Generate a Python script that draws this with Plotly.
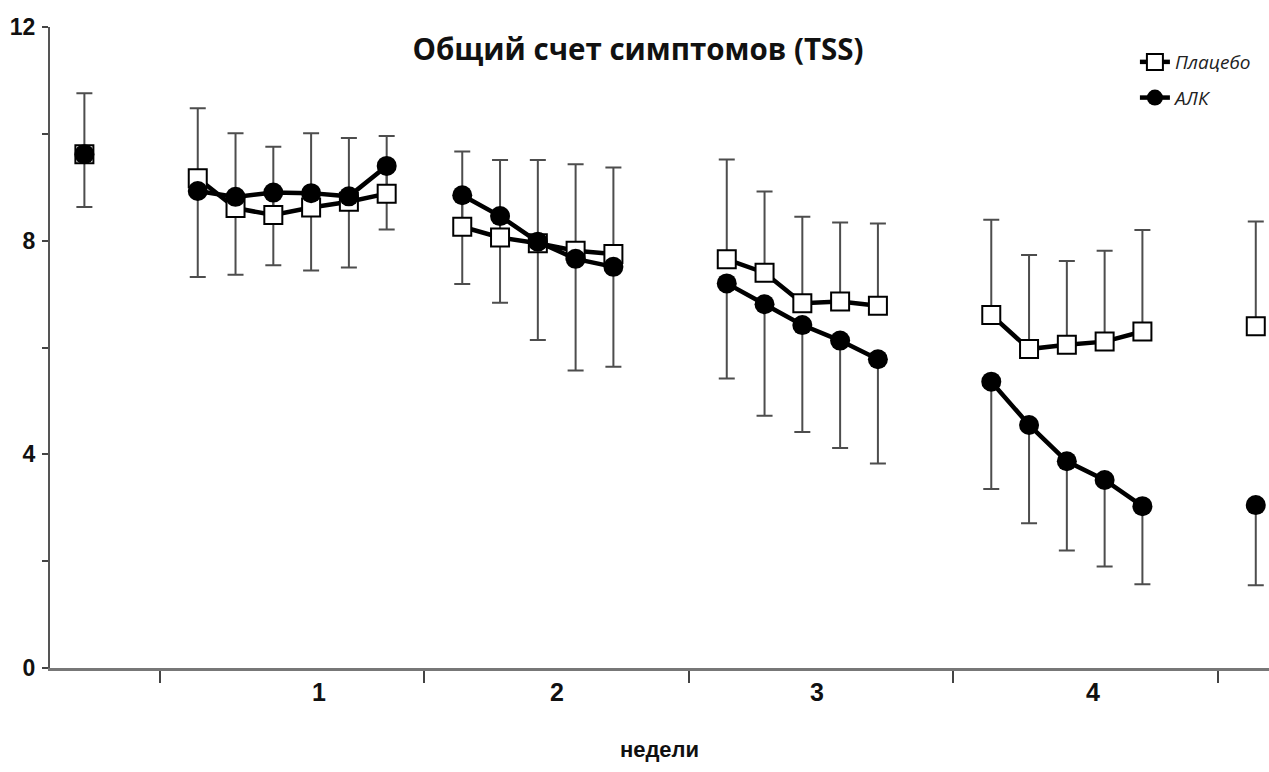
import plotly.graph_objects as go

# Study days (baseline, then daily diary entries in weeks 1-4, end of study)
days = [-2, 1, 2, 3, 4, 5, 6, 8, 9, 10, 11, 12, 15, 16, 17, 18, 19,
        22, 23, 24, 25, 26, 29]

# Total symptom score, placebo group (mean and SD drawn upwards)
placebo_mean = [9.62, 9.17, 8.61, 8.48, 8.62, 8.73, 8.88,
                8.26, 8.06, 7.95, 7.81, 7.75,
                7.65, 7.40, 6.83, 6.86, 6.78,
                6.61, 5.97, 6.05, 6.11, 6.30, 6.40]
placebo_sd = [1.14, 1.31, 1.40, 1.28, 1.39, 1.19, 1.08,
              1.41, 1.45, 1.56, 1.62, 1.62,
              1.87, 1.52, 1.62, 1.48, 1.54,
              1.78, 1.76, 1.57, 1.70, 1.90, 1.96]

# Total symptom score, ALK group (mean and SD drawn downwards)
alk_mean = [9.62, 8.93, 8.82, 8.90, 8.89, 8.83, 9.40,
            8.85, 8.46, 7.98, 7.66, 7.51,
            7.20, 6.81, 6.42, 6.13, 5.78,
            5.36, 4.55, 3.87, 3.52, 3.03, 3.05]
alk_sd = [0.99, 1.61, 1.46, 1.36, 1.45, 1.33, 1.19,
          1.66, 1.62, 1.84, 2.09, 1.87,
          1.78, 2.09, 2.00, 2.01, 1.95,
          2.01, 1.84, 1.67, 1.62, 1.46, 1.50]

# Week boundaries on the day axis and week labels
week_bounds = [0, 7, 14, 21, 28]
week_label_pos = [4.2, 10.5, 17.4, 24.7]
week_labels = ["1", "2", "3", "4"]

y_ticks = [0, 2, 4, 6, 8, 10, 12]
y_ticktext = ["0", "", "4", "", "8", "", "12"]

# Segments: points within the same week are joined by a line
segments = [(0, 1), (1, 7), (7, 12), (12, 17), (17, 22), (22, 23)]

ERR_COLOR = "#4d4d4d"
LABEL_FONT = "Liberation Sans Narrow, Arial Narrow, Liberation Sans, Arial"

fig = go.Figure()

# Error bars first, so markers sit on top of them
zeros = [0] * len(days)
fig.add_trace(go.Scatter(
    x=days, y=placebo_mean, mode="markers",
    marker=dict(size=1, color="rgba(0,0,0,0)"),
    error_y=dict(type="data", symmetric=False, array=placebo_sd,
                 arrayminus=zeros, color=ERR_COLOR, thickness=2, width=8),
    showlegend=False, hoverinfo="skip"))
fig.add_trace(go.Scatter(
    x=days, y=alk_mean, mode="markers",
    marker=dict(size=1, color="rgba(0,0,0,0)"),
    error_y=dict(type="data", symmetric=False, array=zeros,
                 arrayminus=alk_sd, color=ERR_COLOR, thickness=2, width=8),
    showlegend=False, hoverinfo="skip"))

def add_series(mean, name, marker, group):
    for k, (a, b) in enumerate(segments):
        fig.add_trace(go.Scatter(
            x=days[a:b], y=mean[a:b], mode="lines+markers",
            line=dict(color="black", width=4.5),
            marker=marker, name=name, legendgroup=group,
            showlegend=(k == 1)))

add_series(placebo_mean, "Плацебо",
           dict(symbol="square", size=18, color="white",
                line=dict(color="black", width=2)), "p")
add_series(alk_mean, "АЛК",
           dict(symbol="circle", size=20, color="black",
                line=dict(color="black", width=0)), "a")

for pos, lab in zip(week_label_pos, week_labels):
    fig.add_annotation(x=pos, y=-0.062, xref="x", yref="paper",
                       text=f"<b>{lab}</b>", showarrow=False,
                       font=dict(family=LABEL_FONT, size=25, color="#111"))

fig.update_layout(
    width=1269, height=772,
    margin=dict(l=50, r=0, t=27, b=104),
    paper_bgcolor="white", plot_bgcolor="white",
    title=dict(text="<b>Общий счет симптомов (TSS)</b>",
               x=638 / 1269, xanchor="center", y=1 - 50 / 772, yanchor="middle",
               font=dict(family="Open Sans", size=29.5, color="#111")),
    legend=dict(x=0.89, y=0.975, xanchor="left", yanchor="top",
                bgcolor="rgba(0,0,0,0)", tracegroupgap=8,
                font=dict(family="Open Sans", size=19, color="#222",
                          style="italic")),
    xaxis=dict(range=[-2.91, 29.35], tickvals=week_bounds,
               ticktext=[""] * len(week_bounds),
               ticks="outside", ticklen=12, tickwidth=2, tickcolor="#444",
               showline=True, linecolor="#777", linewidth=3,
               showgrid=False, zeroline=False,
               title=dict(text="<b>недели</b>", standoff=0,
                          font=dict(family=LABEL_FONT, size=22, color="#111"))),
    yaxis=dict(range=[0, 12], tickvals=y_ticks,
               ticktext=[f"<b>{t}</b>" if t else "" for t in y_ticktext],
               ticks="outside", ticklen=6, tickwidth=2, tickcolor="#444",
               showline=True, linecolor="#555", linewidth=2,
               showgrid=False, zeroline=False,
               tickfont=dict(family=LABEL_FONT, size=23, color="#111"),
               ticklabelstandoff=2),
)
fig.update_xaxes(title_standoff=58)

fig.write_html("out.html")
